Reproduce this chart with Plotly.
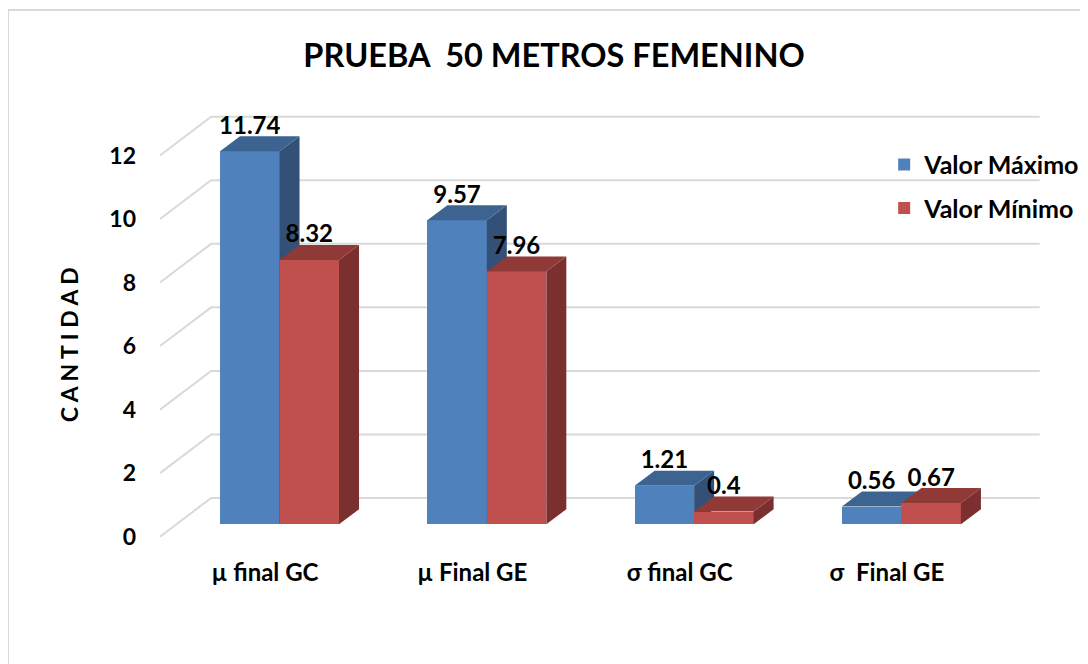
import plotly.graph_objects as go

categories = ['µ final GC', 'µ Final GE', 'σ final GC', 'σ  Final GE']
valor_maximo = [11.74, 9.57, 1.21, 0.56]
valor_minimo = [8.32, 7.96, 0.4, 0.67]
y_ticks = [0, 2, 4, 6, 8, 10, 12]

FONT = 'Lato'
BLUE, BLUE_TOP, BLUE_SIDE = '#4F81BD', '#3D6491', '#335177'
RED, RED_TOP, RED_SIDE = '#C0504D', '#903A38', '#7B2F2E'
GRID = '#D9D9D9'

BAR_W = 0.287      # bar width in category units
DEPTH_X = 0.0965   # fake 3d depth of the bars
DEPTH_Y = 0.472
WALL_Y = 0.828     # back wall sits higher than the bar base
LABEL_Y = 0.74
TICK_Y = -0.39
xs = list(range(len(categories)))


def face_polys(values, left, kind):
    # polygons for the top or side face of each bar, split with None
    px, py = [], []
    for x, v in zip(xs, values):
        x0 = x + left
        x1 = x0 + BAR_W
        if kind == 'top':
            px += [x0, x0 + DEPTH_X, x1 + DEPTH_X, x1, x0, None]
            py += [v, v + DEPTH_Y, v + DEPTH_Y, v, v, None]
        else:
            px += [x1, x1 + DEPTH_X, x1 + DEPTH_X, x1, x1, None]
            py += [0, DEPTH_Y, v + DEPTH_Y, v, 0, None]
    return px, py


def add_faces(fig, values, left, top_color, side_color, xa, ya):
    for kind, color in (('side', side_color), ('top', top_color)):
        px, py = face_polys(values, left, kind)
        fig.add_trace(go.Scatter(x=px, y=py, mode='lines', fill='toself', fillcolor=color,
                                 line=dict(width=0, color=color), showlegend=False,
                                 hoverinfo='skip', xaxis=xa, yaxis=ya))


fig = go.Figure()

# back wall and left wall gridlines on the base axes
grid_x, grid_y = [], []
for t in y_ticks:
    grid_x += [-0.5765, -0.33, 3.667, None]
    grid_y += [t + TICK_Y, t + WALL_Y, t + WALL_Y, None]
fig.add_trace(go.Scatter(x=grid_x, y=grid_y, mode='lines', line=dict(color=GRID, width=2),
                         showlegend=False, hoverinfo='skip'))

# each series gets its own overlay axes so the stacking is grid < blue < red
fig.add_trace(go.Bar(x=xs, y=valor_maximo, width=BAR_W, offset=-BAR_W, name='Valor Máximo',
                     marker=dict(color=BLUE, line=dict(width=0)), legendgroup='a',
                     xaxis='x2', yaxis='y2'))
add_faces(fig, valor_maximo, -BAR_W, BLUE_TOP, BLUE_SIDE, 'x2', 'y2')

fig.add_trace(go.Bar(x=xs, y=valor_minimo, width=BAR_W, offset=0, name='Valor Mínimo',
                     marker=dict(color=RED, line=dict(width=0)), legendgroup='b',
                     xaxis='x3', yaxis='y3'))
add_faces(fig, valor_minimo, 0, RED_TOP, RED_SIDE, 'x3', 'y3')

# data labels
for values, shift in ((valor_maximo, -BAR_W / 2), (valor_minimo, BAR_W / 2)):
    fig.add_trace(go.Scatter(x=[x + shift for x in xs], y=[v + LABEL_Y for v in values],
                             mode='text', text=[str(v) for v in values],
                             textposition='middle center',
                             textfont=dict(family=FONT, size=24, color='black', weight=700),
                             showlegend=False, hoverinfo='skip', xaxis='x3', yaxis='y3'))

x_range = [-0.673, 3.900]
y_range = [-0.998, 13.67]

# page body keeps an 8px margin, so the figure is 8px smaller than the window
fig.update_layout(
    width=1080,
    height=656,
    margin=dict(l=132, r=0, t=82, b=108),
    paper_bgcolor='white',
    plot_bgcolor='white',
    bargap=0,
    title=dict(text='PRUEBA  50 METROS FEMENINO', x=0.5056, y=0.928, xanchor='center', yanchor='middle',
               font=dict(family=FONT, size=32.5, color='black', weight=700)),
    xaxis=dict(range=x_range, tickvals=[x - 0.07 for x in xs], ticktext=categories,
               showgrid=False, zeroline=False, showline=False, ticks='',
               tickfont=dict(family=FONT, size=24, color='black', weight=700)),
    yaxis=dict(range=y_range, tickvals=[t + TICK_Y for t in y_ticks], ticktext=[str(t) for t in y_ticks],
               showgrid=False, zeroline=False, showline=False, ticks='', ticklabelstandoff=3,
               tickfont=dict(family=FONT, size=23, color='black', weight=700)),
    xaxis2=dict(range=x_range, overlaying='x', visible=False),
    yaxis2=dict(range=y_range, overlaying='y', visible=False),
    xaxis3=dict(range=x_range, overlaying='x', visible=False),
    yaxis3=dict(range=y_range, overlaying='y', visible=False),
    legend=dict(x=0.785, y=0.889, xanchor='left', yanchor='top', bgcolor='rgba(0,0,0,0)',
                traceorder='grouped', tracegroupgap=8,
                font=dict(family=FONT, size=25, color='black', weight=700)),
    annotations=[dict(text='C A N T I D A D', textangle=-90, xref='paper', yref='paper',
                      x=-0.0755, y=0.453, xanchor='center', yanchor='middle', showarrow=False,
                      font=dict(family=FONT, size=23, color='black', weight=700))],
    shapes=[dict(type='rect', xref='paper', yref='paper', x0=-0.1392, x1=1.01, y0=-0.24, y1=1.1717,
                 line=dict(color=GRID, width=2), layer='below')],
)

fig.write_html("out.html")
